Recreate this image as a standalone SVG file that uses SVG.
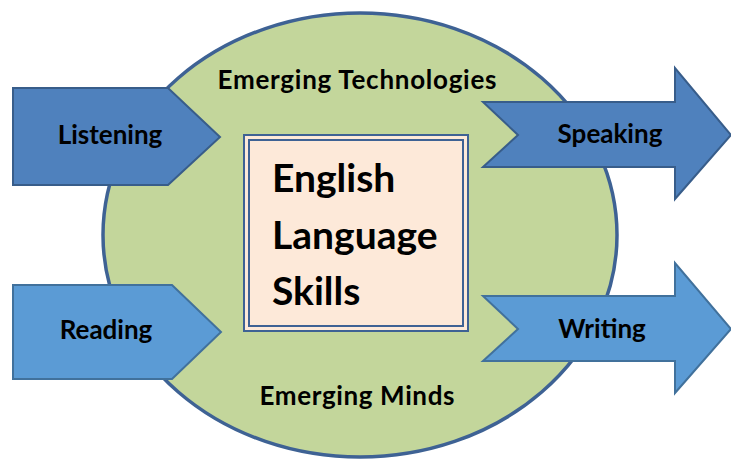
<svg xmlns="http://www.w3.org/2000/svg" width="731" height="459" viewBox="0 0 731 459">
<style>
.lbl{font-family:Lato,"Liberation Sans",sans-serif;font-weight:bold;font-size:26px;fill:#000;text-anchor:middle}
.big{font-family:Lato,"Liberation Sans",sans-serif;font-weight:bold;font-size:39px;fill:#000}
.dark{fill:#4F81BD;stroke:#385D8A;stroke-width:2;stroke-linejoin:miter}
.light{fill:#5B9BD5;stroke:#41719C;stroke-width:2;stroke-linejoin:miter}
</style>
<rect width="731" height="459" fill="#fff"/>
<g id="circle">
<ellipse cx="360" cy="235" rx="257" ry="222" fill="#C3D69B" stroke="#3E6294" stroke-width="3.5"/>
<text class="lbl" x="357" y="89" textLength="279">Emerging Technologies</text>
<text class="lbl" x="357" y="405" textLength="195">Emerging Minds</text>
</g>
<g id="center">
<rect x="244" y="135" width="224" height="196" fill="#FDE9D9" stroke="#3E6294" stroke-width="2"/>
<rect x="249" y="140" width="214" height="186" fill="none" stroke="#3E6294" stroke-width="2"/>
<text class="big" x="272" y="192">English</text>
<text class="big" x="272" y="249">Language</text>
<text class="big" x="272" y="305">Skills</text>
</g>
<g id="listening">
<polygon class="dark" points="13,88 168,88 220,137 168,185 13,185"/>
<text class="lbl" x="110" y="144">Listening</text>
</g>
<g id="reading">
<polygon class="light" points="13,285 172,285 221,332 172,379 13,379"/>
<text class="lbl" x="106" y="339">Reading</text>
</g>
<g id="speaking">
<polygon class="dark" points="483,102 675,102 675,68 731,135 675,199 675,167 483,167 518,135"/>
<text class="lbl" x="610" y="143">Speaking</text>
</g>
<g id="writing">
<polygon class="light" points="483,296 675,296 675,263 731,329 675,393 675,361 483,361 518,329"/>
<text class="lbl" x="602" y="338">Writing</text>
</g>
<g id="connectors"/>
</svg>
